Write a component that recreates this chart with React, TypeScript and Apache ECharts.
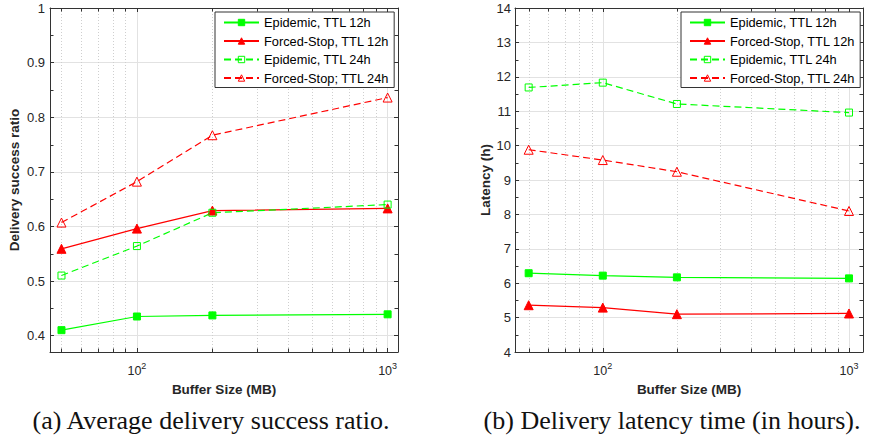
import React, { useEffect, useRef } from 'react';
import * as echarts from 'echarts';

// ---- data ----
const bufferSizes = [50, 100, 200, 1000];

const ratioEpidemic12 = [0.410, 0.435, 0.437, 0.439];
const ratioForced12 = [0.559, 0.596, 0.629, 0.633];
const ratioEpidemic24 = [0.510, 0.564, 0.625, 0.640];
const ratioForced24 = [0.607, 0.682, 0.767, 0.836];

const latencyEpidemic12 = [6.29, 6.22, 6.17, 6.14];
const latencyForced12 = [5.36, 5.29, 5.10, 5.12];
const latencyEpidemic24 = [11.69, 11.83, 11.21, 10.96];
const latencyForced24 = [9.88, 9.58, 9.24, 8.10];

const namesA = ['Epidemic, TTL 12h', 'Forced-Stop, TTL 12h', 'Epidemic, TTL 24h', 'Forced-Stop; TTL 24h'];
const namesB = ['Epidemic, TTL 12h', 'Forced-Stop, TTL 12h', 'Epidemic, TTL 24h', 'Forced-Stop, TTL 24h'];

const xMinorTicks = [50, 60, 70, 80, 90, 200, 300, 400, 500, 600, 700, 800, 900];
const ratioMinorTicks = [0.45, 0.55, 0.65, 0.75, 0.85, 0.95];
const latencyMinorTicks = [4.5, 5.5, 6.5, 7.5, 8.5, 9.5, 10.5, 11.5, 12.5, 13.5];

const xAxisTitle = 'Buffer Size (MB)';
const yTitleA = 'Delivery success ratio';
const yTitleB = 'Latency (h)';
const captions = ['(a) Average delivery success ratio.', '(b) Delivery latency time (in hours).'];

// ---- styling ----
const FRAME = '#333333';
const GRID = '#e2e2e2';
const MINOR_GRID = '#cfcfcf';
const TEXT = '#262626';
const SANS = '"Liberation Sans", Arial, Helvetica, sans-serif';
const GREEN = '#00ff00';
const RED = '#ff0000';

const seriesStyles = [
  { color: GREEN, symbol: 'rect', size: 7, filled: true, dash: 'solid' as any },
  { color: RED, symbol: 'triangle', size: 9, filled: true, dash: 'solid' as any },
  { color: GREEN, symbol: 'rect', size: 7, filled: false, dash: [7, 4] as any },
  { color: RED, symbol: 'triangle', size: 9, filled: false, dash: [7, 4] as any },
];

function supLabel(v: number) {
  const e = Math.round(Math.log10(v));
  if (Math.abs(Math.pow(10, e) - v) < 1e-6 * v) return '{b|10}{s|' + e + '}';
  return '';
}

function xAxis(grid: number, min: number, max: number, top: boolean) {
  return {
    type: 'log',
    logBase: 10,
    gridIndex: grid,
    min,
    max,
    position: top ? 'top' : 'bottom',
    axisLine: { show: true, onZero: false, lineStyle: { color: FRAME, width: 1 } },
    axisTick: { show: true, inside: true, length: 4, lineStyle: { color: FRAME, width: 1 } },
    axisLabel: top
      ? { show: false }
      : {
          show: true,
          margin: 9,
          formatter: supLabel,
          rich: {
            b: { fontSize: 12.5, fontFamily: SANS, color: TEXT, lineHeight: 16, verticalAlign: 'bottom' },
            s: { fontSize: 9, fontFamily: SANS, color: TEXT, lineHeight: 16, verticalAlign: 'top' },
          },
        },
    splitLine: { show: !top, lineStyle: { color: GRID, width: 1 } },
    name: top ? '' : xAxisTitle,
    nameLocation: 'middle',
    nameGap: 30,
    nameTextStyle: { fontFamily: SANS, fontSize: 13.5, fontWeight: 'bold', color: TEXT },
  };
}

function yAxis(grid: number, min: number, max: number, right: boolean, title: string, nameGap: number, labelMargin: number, interval?: number) {
  const a: any = {
    type: 'value',
    gridIndex: grid,
    min,
    max,
    position: right ? 'right' : 'left',
    axisLine: { show: true, onZero: false, lineStyle: { color: FRAME, width: 1 } },
    axisTick: { show: true, inside: true, length: 4, lineStyle: { color: FRAME, width: 1 } },
    axisLabel: right
      ? { show: false }
      : { show: true, margin: labelMargin, fontFamily: SANS, fontSize: 13, color: TEXT, showMinLabel: interval !== undefined },
    splitLine: { show: !right, lineStyle: { color: GRID, width: 1 } },
    name: right ? '' : title,
    nameLocation: 'middle',
    nameGap,
    nameTextStyle: { fontFamily: SANS, fontSize: 13.5, fontWeight: 'bold', color: TEXT },
  };
  if (interval !== undefined) a.interval = interval;
  return a;
}

function lineSeries(names: string[], values: number[][], axisIndex: number) {
  return values.map((vals, i) => {
    const st = seriesStyles[i];
    return {
      type: 'line',
      name: names[i],
      xAxisIndex: axisIndex,
      yAxisIndex: axisIndex,
      data: bufferSizes.map((x, k) => [x, vals[k]]),
      symbol: st.symbol,
      symbolSize: st.size,
      showSymbol: true,
      z: 3,
      lineStyle: { color: st.color, width: 1.2, type: st.dash },
      itemStyle: st.filled
        ? { color: st.color, borderColor: st.color, borderWidth: 1 }
        : { color: 'rgba(255,255,255,0)', borderColor: st.color, borderWidth: 1 },
      emphasis: { disabled: true },
    };
  });
}

function xMinorSeries(axisIndex: number, yMin: number) {
  return {
    type: 'custom',
    xAxisIndex: axisIndex,
    yAxisIndex: axisIndex,
    silent: true,
    z: 1,
    data: xMinorTicks.map((v) => [v, yMin]),
    renderItem: (params: any, api: any) => {
      const cs = params.coordSys;
      const p = api.coord([api.value(0), api.value(1)]);
      const x = Math.round(p[0]) + 0.5;
      const top = cs.y;
      const bottom = cs.y + cs.height;
      return {
        type: 'group',
        children: [
          { type: 'line', shape: { x1: x, y1: top, x2: x, y2: bottom }, style: { stroke: MINOR_GRID, lineWidth: 1, lineDash: [1, 2] } },
          { type: 'line', shape: { x1: x, y1: bottom, x2: x, y2: bottom - 3.5 }, style: { stroke: FRAME, lineWidth: 1 } },
          { type: 'line', shape: { x1: x, y1: top, x2: x, y2: top + 3.5 }, style: { stroke: FRAME, lineWidth: 1 } },
        ],
      };
    },
  };
}

function yMinorSeries(axisIndex: number, xMin: number, ticks: number[]) {
  return {
    type: 'custom',
    xAxisIndex: axisIndex,
    yAxisIndex: axisIndex,
    silent: true,
    z: 1,
    data: ticks.map((v) => [xMin, v]),
    renderItem: (params: any, api: any) => {
      const cs = params.coordSys;
      const p = api.coord([api.value(0), api.value(1)]);
      const y = Math.round(p[1]) + 0.5;
      const left = cs.x;
      const right = cs.x + cs.width;
      return {
        type: 'group',
        children: [
          { type: 'line', shape: { x1: left, y1: y, x2: left + 3.5, y2: y }, style: { stroke: FRAME, lineWidth: 1 } },
          { type: 'line', shape: { x1: right, y1: y, x2: right - 3.5, y2: y }, style: { stroke: FRAME, lineWidth: 1 } },
        ],
      };
    },
  };
}

function legend(names: string[], left: number, top: number) {
  return {
    show: true,
    orient: 'vertical',
    left,
    top,
    data: names,
    itemWidth: 35,
    itemHeight: 8,
    itemGap: 5.5,
    padding: [4, 5, 3, 8],
    backgroundColor: '#ffffff',
    borderColor: FRAME,
    borderWidth: 1,
    borderRadius: 0,
    selectedMode: false,
    textStyle: { fontFamily: SANS, fontSize: 12.8, color: '#000' },
    itemStyle: { borderWidth: 1 },
    z: 10,
  };
}

const option: any = {
  animation: false,
  backgroundColor: '#ffffff',
  grid: [
    { left: 50, top: 8, width: 348, height: 344, containLabel: false },
    { left: 515, top: 8, width: 348, height: 344, containLabel: false },
  ],
  xAxis: [
    xAxis(0, 45, 1100, false),
    xAxis(0, 45, 1100, true),
    xAxis(1, 44, 1140, false),
    xAxis(1, 44, 1140, true),
  ],
  yAxis: [
    yAxis(0, 0.37, 1, false, yTitleA, 29, 5),
    yAxis(0, 0.37, 1, true, '', 0, 0),
    yAxis(1, 4, 14, false, yTitleB, 22, 4, 1),
    yAxis(1, 4, 14, true, '', 0, 0, 1),
  ],
  legend: [legend(namesA, 215, 12), legend(namesB, 681, 12)],
  series: [
    xMinorSeries(0, 0.37),
    yMinorSeries(0, 45, ratioMinorTicks),
    xMinorSeries(2, 4),
    yMinorSeries(2, 44, latencyMinorTicks),
    ...lineSeries(namesA, [ratioEpidemic12, ratioForced12, ratioEpidemic24, ratioForced24], 0),
    ...lineSeries(namesB, [latencyEpidemic12, latencyForced12, latencyEpidemic24, latencyForced24], 2),
  ],
  graphic: [
    {
      type: 'text',
      x: 211,
      y: 420,
      style: { text: captions[0], fontFamily: '"Liberation Serif", "Times New Roman", serif', fontSize: 26, fill: '#111', align: 'center', verticalAlign: 'middle' },
    },
    {
      type: 'text',
      x: 672,
      y: 420,
      style: { text: captions[1], fontFamily: '"Liberation Serif", "Times New Roman", serif', fontSize: 26, fill: '#111', align: 'center', verticalAlign: 'middle' },
    },
  ],
};

export default function App() {
  const ref = useRef<HTMLDivElement>(null);
  useEffect(() => {
    const chart = echarts.init(ref.current as HTMLDivElement, null, { renderer: 'svg' });
    chart.setOption(option);
    return () => chart.dispose();
  }, []);
  return <div ref={ref} style={{ position: 'absolute', left: 0, top: 0, width: 874, height: 440, background: '#fff' }} />;
}
